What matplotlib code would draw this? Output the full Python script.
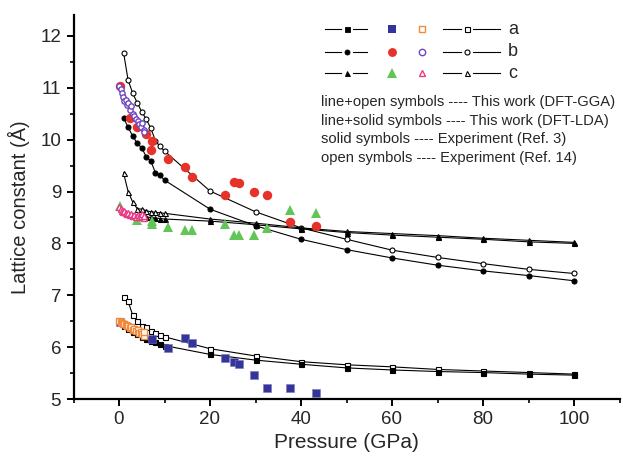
import matplotlib
matplotlib.use("Agg")
import matplotlib.pyplot as plt
from matplotlib.lines import Line2D
from matplotlib.ticker import MultipleLocator

plt.rcParams['font.family'] = ['Liberation Sans', 'DejaVu Sans']

# calculated pressures (GPa)
p_calc = [1, 2, 3, 4, 5, 6, 7, 8, 9, 10, 20, 30, 40, 50, 60, 70, 80, 90, 100]

a_gga = [6.97, 6.88, 6.62, 6.51, 6.41, 6.38, 6.32, 6.27, 6.23, 6.20, 5.97, 5.83, 5.72, 5.66, 5.62, 5.57, 5.54, 5.51, 5.48]
a_lda = [6.40, 6.35, 6.30, 6.25, 6.20, 6.16, 6.12, 6.09, 6.06, 6.03, 5.86, 5.75, 5.67, 5.60, 5.56, 5.53, 5.51, 5.48, 5.46]
b_gga = [11.68, 11.15, 10.90, 10.71, 10.54, 10.39, 10.22, 9.98, 9.87, 9.78, 9.01, 8.61, 8.30, 8.08, 7.87, 7.73, 7.61, 7.50, 7.42]
b_lda = [10.42, 10.24, 10.07, 9.93, 9.84, 9.67, 9.59, 9.36, 9.31, 9.22, 8.66, 8.34, 8.08, 7.88, 7.72, 7.58, 7.47, 7.38, 7.28]
c_gga = [9.36, 9.00, 8.80, 8.67, 8.66, 8.63, 8.61, 8.60, 8.59, 8.58, 8.47, 8.39, 8.30, 8.23, 8.19, 8.15, 8.10, 8.06, 8.02]
c_lda = [8.60, 8.57, 8.55, 8.53, 8.52, 8.51, 8.50, 8.49, 8.48, 8.47, 8.43, 8.36, 8.28, 8.21, 8.16, 8.12, 8.08, 8.03, 8.00]

# experiment Ref. 3 (solid symbols)
ref3_pa = [0.2, 7.2, 10.8, 14.4, 16.1, 23.3, 25.3, 26.4, 29.7, 32.6, 37.5, 43.2]
ref3_a = [6.49, 6.16, 5.99, 6.18, 6.08, 5.79, 5.71, 5.67, 5.46, 5.21, 5.21, 5.11]
ref3_pb = [0.2, 2.4, 4.0, 5.9, 7.3, 7.1, 10.8, 14.4, 16.1, 23.3, 25.3, 26.4, 29.7, 32.6, 37.5, 43.2]
ref3_b = [11.04, 10.42, 10.24, 10.10, 9.98, 9.80, 9.62, 9.47, 9.28, 8.94, 9.18, 9.16, 8.99, 8.94, 8.41, 8.34]
ref3_pc = [0.2, 3.9, 7.2, 7.2, 10.8, 14.4, 16.1, 23.3, 25.3, 26.4, 29.7, 32.6, 37.5, 43.2]
ref3_c = [8.72, 8.45, 8.44, 8.37, 8.32, 8.25, 8.26, 8.38, 8.17, 8.16, 8.16, 8.30, 8.64, 8.59]

# experiment Ref. 14 (open symbols)
ref14_p = [0.1, 0.4, 0.7, 0.9, 1.2, 1.5, 1.7, 2.0, 2.4, 2.6, 3.0, 3.4, 3.7, 4.1, 4.4, 4.8, 5.1, 5.4, 5.6]
ref14_a = [6.51, 6.49, 6.47, 6.45, 6.44, 6.42, 6.40, 6.41, 6.37, 6.38, 6.34, 6.35, 6.31, 6.33, 6.28, 6.30, 6.26, 6.22, 6.29]
ref14_b = [11.04, 10.98, 10.90, 10.82, 10.74, 10.76, 10.66, 10.70, 10.58, 10.64, 10.50, 10.46, 10.40, 10.36, 10.30, 10.24, 10.32, 10.18, 10.14]
ref14_c = [8.70, 8.66, 8.63, 8.60, 8.62, 8.58, 8.56, 8.59, 8.54, 8.56, 8.52, 8.55, 8.51, 8.54, 8.50, 8.52, 8.57, 8.49, 8.53]

BLUE = '#34349a'
RED = '#e5332a'
GREEN = '#62c557'
ORANGE = '#f08a3c'
PURPLE = '#6d44c4'
PINK = '#e83a84'
TXT = '#262626'

W, H = 623, 458
fig = plt.figure(figsize=(W / 100, H / 100), dpi=100)
ax = fig.add_axes([73.5 / W, 59 / H, 546 / W, 383.8 / H])

lw = 0.8
ms = 3.6
for vals, mk in [(a_gga, 's'), (b_gga, 'o'), (c_gga, '^')]:
    ax.plot(p_calc, vals, '-', color='black', lw=lw, marker=mk, ms=ms,
            mfc='white', mec='black', mew=0.8, zorder=3)
for vals, mk in [(a_lda, 's'), (b_lda, 'o'), (c_lda, '^')]:
    ax.plot(p_calc, vals, '-', color='black', lw=lw, marker=mk, ms=ms,
            mfc='black', mec='black', mew=0.8, zorder=3)

ax.plot(ref3_pa, ref3_a, 's', color=BLUE, ms=6.2, mec='#7777bb', mew=0.4, zorder=4)
ax.plot(ref3_pb, ref3_b, 'o', color=RED, ms=6.8, mew=0, zorder=4)
ax.plot(ref3_pc, ref3_c, '^', color=GREEN, ms=7.8, mew=0, zorder=4)

ax.plot(ref14_p, ref14_a, 's', mfc='white', mec=ORANGE, ms=3.8, mew=1.0, zorder=5)
ax.plot(ref14_p, ref14_b, 'o', mfc='white', mec=PURPLE, ms=3.8, mew=1.0, zorder=5)
ax.plot(ref14_p, ref14_c, '^', mfc='white', mec=PINK, ms=4.2, mew=1.0, zorder=5)

ax.set_xlim(-10, 110)
ax.set_ylim(5, 12.4)
ax.xaxis.set_major_locator(MultipleLocator(20))
ax.xaxis.set_minor_locator(MultipleLocator(10))
ax.yaxis.set_major_locator(MultipleLocator(1))
ax.yaxis.set_minor_locator(MultipleLocator(0.5))
ax.spines['top'].set_visible(False)
ax.spines['right'].set_visible(False)
for s in ['left', 'bottom']:
    ax.spines[s].set_linewidth(1.6)
ax.tick_params(which='major', direction='out', length=5, width=1.4,
               labelsize=13.5, labelcolor=TXT, pad=4)
ax.tick_params(which='minor', direction='out', length=3, width=1.2)
ax.set_xlabel('Pressure (GPa)', fontsize=15, color=TXT, labelpad=3)
ax.set_ylabel('Lattice constant (Å)', fontsize=14.5, color=TXT, labelpad=7)


# hand-made legend in figure pixel coordinates
def fx(x):
    return x / W


def fy(y):
    return 1 - y / H


def seg(x0, x1, y):
    fig.add_artist(Line2D([fx(x0), fx(x1)], [fy(y), fy(y)], color='black', lw=0.8))


def mark(x, y, m, fc, ec, size, mew=1.0):
    fig.add_artist(Line2D([fx(x)], [fy(y)], marker=m, ms=size, mfc=fc, mec=ec,
                          mew=mew, ls='none'))


rows = [29, 52, 73]
names = ['a', 'b', 'c']
mks = ['s', 'o', '^']
solid_cols = [BLUE, RED, GREEN]
open_cols = [ORANGE, PURPLE, PINK]
for y, nm, m, sc, oc in zip(rows, names, mks, solid_cols, open_cols):
    seg(325, 341, y)
    mark(347, y, m, 'black', 'black', 3.6, 0.6)
    seg(353, 367, y)
    mark(392, y, m, sc, sc, 6.4 if m != '^' else 7.2, 0)
    mark(422, y, m, 'white', oc, 4.6)
    seg(443, 461, y)
    mark(467, y, m, 'white', 'black', 3.6, 0.8)
    seg(473, 500, y)
    fig.text(fx(508), fy(y), nm, fontsize=13, color=TXT, va='center', ha='left')

notes = ['line+open symbols ---- This work (DFT-GGA)',
         'line+solid symbols ---- This work (DFT-LDA)',
         'solid symbols ---- Experiment (Ref. 3)',
         'open symbols ---- Experiment (Ref. 14)']
for i, t in enumerate(notes):
    fig.text(fx(321), fy(102 + 18.7 * i), t, fontsize=10.6, color=TXT,
             va='center', ha='left')

fig.savefig('out.png', dpi=100)
